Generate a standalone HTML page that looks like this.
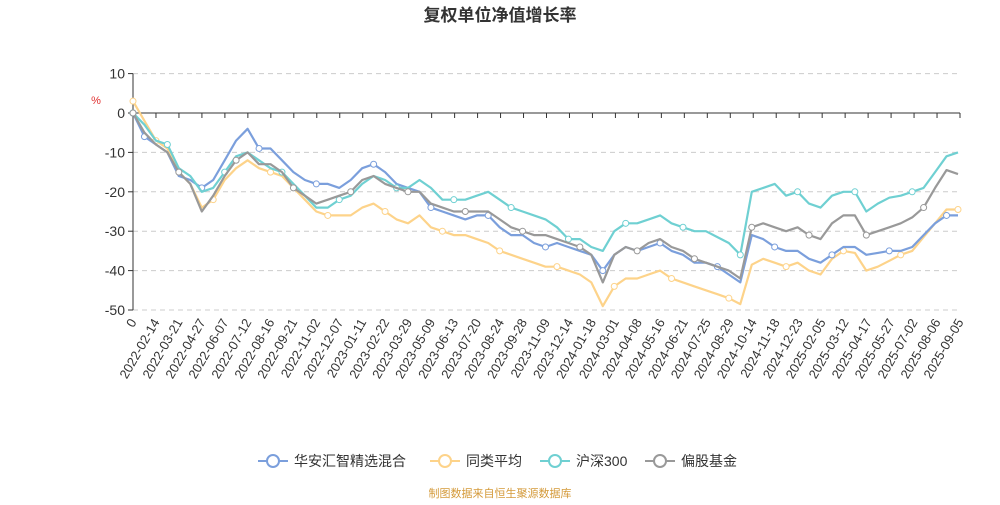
<!DOCTYPE html>
<html><head><meta charset="utf-8"><style>
body{margin:0;background:#fff;font-family:"Liberation Sans","Noto Sans CJK SC",sans-serif}
svg text{font-family:"Liberation Sans","Noto Sans CJK SC",sans-serif}
</style></head><body>
<svg id="chart" width="1000" height="500">
<text x="500" y="21" text-anchor="middle" font-size="17" font-weight="bold" fill="#333">复权单位净值增长率</text>
<text x="96" y="104" text-anchor="middle" font-size="11" fill="#e03030">%</text>
<g id="grid"></g><g id="axes"></g><g id="series"></g><g id="legend"></g>
<text x="500" y="497" text-anchor="middle" font-size="11" fill="#d49a3a">制图数据来自恒生聚源数据库</text>
</svg>
<script>
const xLabels=["0","2022-02-14","2022-03-21","2022-04-27","2022-06-07","2022-07-12","2022-08-16","2022-09-21","2022-11-02","2022-12-07","2023-01-11","2023-02-22","2023-03-29","2023-05-09","2023-06-13","2023-07-20","2023-08-24","2023-09-28","2023-11-09","2023-12-14","2024-01-18","2024-03-01","2024-04-08","2024-05-16","2024-06-21","2024-07-25","2024-08-29","2024-10-14","2024-11-18","2024-12-23","2025-02-05","2025-03-12","2025-04-17","2025-05-27","2025-07-02","2025-08-06","2025-09-05"];
const yTicks=[10,0,-10,-20,-30,-40,-50];
const seriesNames=["华安汇智精选混合","同类平均","沪深300","偏股基金"];
const fundValues=[0,-6,-8,-10,-16,-17,-19,-17,-12,-7,-4,-9,-9,-12,-15,-17,-18,-18,-19,-17,-14,-13,-15,-18,-19,-20,-24,-25,-26,-27,-26,-26,-29,-31,-31,-33,-34,-33,-34,-35,-36,-40,-36,-34,-35,-34,-33,-35,-36,-38,-38,-39,-41,-43,-31,-32,-34,-35,-35,-37,-38,-36,-34,-34,-36,-35.5,-35,-35,-34,-31,-28,-26,-26];
const peerValues=[3,-2,-7,-9,-15,-18,-24,-22,-17,-14,-12,-14,-15,-16,-19,-22,-25,-26,-26,-26,-24,-23,-25,-27,-28,-26,-29,-30,-31,-31,-32,-33,-35,-36,-37,-38,-39,-39,-40,-41,-43,-49,-44,-42,-42,-41,-40,-42,-43,-44,-45,-46,-47,-48.5,-38.5,-37,-38,-39,-38,-40,-41,-37,-35,-35.5,-40,-39,-37.5,-36,-35,-31.5,-28,-24.5,-24.5];
const csiValues=[0,-3,-7,-8,-14,-16,-20,-19,-15,-11,-10,-12,-14,-15,-18,-21,-24,-24,-22,-21,-18,-16,-17,-19,-19,-17,-19,-22,-22,-22,-21,-20,-22,-24,-25,-26,-27,-29,-32,-32,-34,-35,-30,-28,-28,-27,-26,-28,-29,-30,-30,-31.5,-33,-36,-20,-19,-18,-21,-20,-23,-24,-21,-20,-20,-25,-23,-21.5,-21,-20,-19,-15,-11,-10];
const equityValues=[0,-5,-8,-10,-15,-18,-25,-21,-16,-12,-10,-13,-13,-15,-19,-21,-23,-22,-21,-20,-17,-16,-18,-19,-20,-20,-23,-24,-25,-25,-25,-25,-27,-29,-30,-31,-31,-32,-33,-34,-36,-43,-36,-34,-35,-33,-32,-34,-35,-37,-38,-39,-40,-42,-29,-28,-29,-30,-29,-31,-32,-28,-26,-26,-31,-30,-29,-28,-26.5,-24,-19,-14.5,-15.5];
const NS="http://www.w3.org/2000/svg";
const X0=133,X1=960,Y0=113,PX=3.94;
function yS(v){return Y0-v*PX}
function xLab(k){return X0+k*(X1-X0)/(xLabels.length-1)}
function xPt(i,n){return X0+i*(X1-X0-2)/(n-1)}
function mk(tag,attrs,parent){const e=document.createElementNS(NS,tag);for(const k in attrs)e.setAttribute(k,attrs[k]);parent.appendChild(e);return e}
const grid=document.getElementById('grid'),axes=document.getElementById('axes'),ser=document.getElementById('series'),leg=document.getElementById('legend');
yTicks.forEach(t=>{
  if(t!==0){const l=mk('line',{x1:X0,x2:X1,y1:yS(t),y2:yS(t),stroke:'#ccc','stroke-dasharray':'5,4'},grid);
  
  }
  const tk=mk('line',{x1:X0-5,x2:X0,y1:yS(t),y2:yS(t),stroke:'#333'},axes);
  
  
  const tx=mk('text',{x:X0-8,y:yS(t)+5,'text-anchor':'end','font-size':14,fill:'#333'},axes);
  tx.textContent=t;
  
  
});
const ya=mk('line',{x1:X0,x2:X0,y1:yS(10),y2:yS(-50),stroke:'#333'},axes);


const xa=mk('line',{x1:X0,x2:X1,y1:Y0,y2:Y0,stroke:'#333'},axes);


xLabels.forEach((s,k)=>{
  const x=xLab(k);
  const tk=mk('line',{x1:x,x2:x,y1:Y0,y2:Y0+5,stroke:'#333'},axes);
  
  
  const tx=mk('text',{x:x+4,y:322,'text-anchor':'end','font-size':13,fill:'#333',transform:`rotate(-60 ${x+4} 322)`},axes);
  tx.textContent=s;
  
  
});
const colors=["#7b9fdc","#fdd38a","#6fd0d2","#999999"];
const all=[fundValues,peerValues,csiValues,equityValues];
const order=[1,0,2,3];
order.forEach(si=>{
  const vals=all[si],n=vals.length;
  const d=vals.map((v,i)=>(i?'L':'M')+xPt(i,n).toFixed(1)+','+yS(v).toFixed(1)).join('');
  const p=mk('path',{d:d,fill:'none',stroke:colors[si],'stroke-width':2.2,'stroke-linejoin':'round'},ser);
  
  
  vals.forEach((v,i)=>{
    if(i%5!==(si+1)%5 && i!==0)return;
    const c=mk('circle',{cx:xPt(i,n),cy:yS(v),r:3,fill:'#fff',stroke:colors[si],'stroke-width':1},ser);
    
    
  });
});
const lx=[258,430,540,645];
seriesNames.forEach((nm,si)=>{
  const g=mk('g',{},leg);
  
  
  mk('line',{x1:lx[si],x2:lx[si]+30,y1:461,y2:461,stroke:colors[si],'stroke-width':2},g);
  mk('circle',{cx:lx[si]+15,cy:461,r:6,fill:'#fff',stroke:colors[si],'stroke-width':2},g);
  const t=mk('text',{x:lx[si]+36,y:466,'font-size':14,fill:'#333'},g);
  t.textContent=nm;
});
</script>
</body></html>
